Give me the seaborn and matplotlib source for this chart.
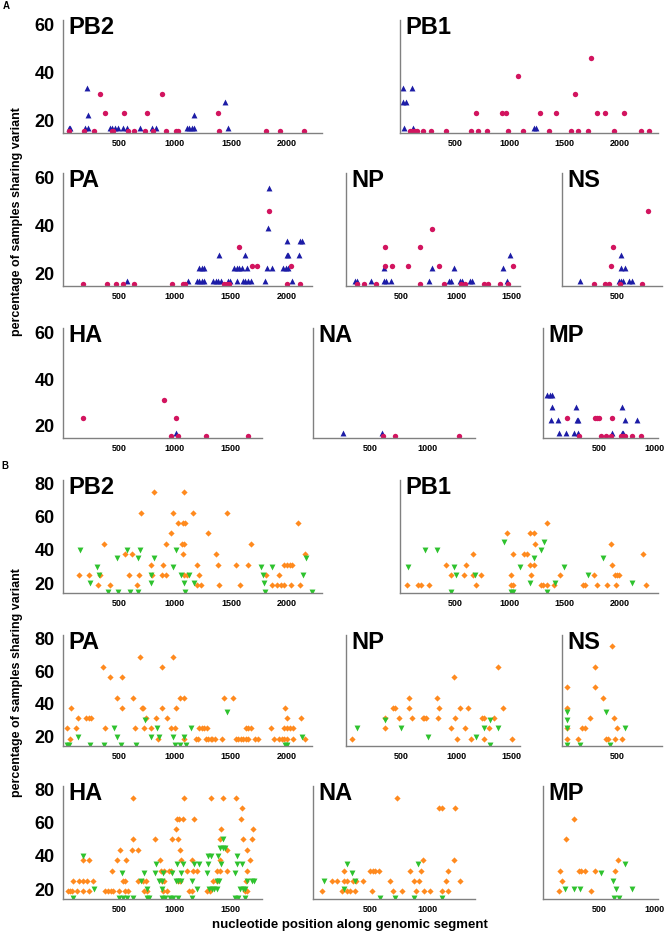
import matplotlib
matplotlib.use("Agg")
import matplotlib.pyplot as plt
import seaborn as sns

# ---- panel A: blue triangles / magenta circles ----
a_pb2_tri = [(50,16.7),(65,16.7),(200,16.7),(220,16.7),(217,33.3),(226,22.2),(420,16.7),(440,16.7),(460,16.7),
             (494,16.7),(540,16.7),(569,16.7),(688,16.7),(792,16.7),(830,16.7),(1104,16.7),(1125,16.7),(1149,16.7),
             (1170,16.7),(1170,22.2),(1450,27.8),(1474,16.7)]
a_pb2_circ = [(57,15.4),(190,15.4),(277,15.4),(435,15.4),(450,15.4),(578,15.4),(634,15.4),(732,15.4),(807,15.4),
              (920,15.4),(1006,15.4),(1030,15.4),(1390,15.4),(1810,15.4),(1938,15.4),(2152,15.4),(330,30.8),
              (375,23.1),(548,23.1),(750,23.1),(884,30.8),(1387,23.1)]

a_pb1_tri = [(27,33.3),(113,33.3),(27,27.8),(52,27.8),(37,16.7),(122,16.7),(1223,16.7),(1241,16.7)]
a_pb1_circ = [(92,15.4),(113,15.4),(134,15.4),(153,15.4),(210,15.4),(281,15.4),(418,15.4),(647,15.4),(714,15.4),
              (790,15.4),(982,15.4),(1119,15.4),(1357,15.4),(1556,15.4),(1623,15.4),(1708,15.4),(1952,15.4),
              (2193,15.4),(2272,15.4),(692,23.1),(927,23.1),(967,23.1),(1074,38.5),(1275,23.1),(1418,23.1),
              (1598,30.8),(1739,46.2),(1790,23.1),(1870,23.1),(2044,23.1)]

a_pa_tri = [(575,16.7),(1113,16.7),(1194,16.7),(1218,16.7),(1238,16.7),(1259,16.7),(1343,16.7),(1366,16.7),
            (1387,16.7),(1408,16.7),(1470,16.7),(1492,16.7),(1557,16.7),(1605,16.7),(1628,16.7),(1652,16.7),
            (1676,16.7),(1807,16.7),(2045,16.7),(1218,22.2),(1238,22.2),(1259,22.2),(1530,22.2),(1551,22.2),
            (1575,22.2),(1596,22.2),(1640,22.2),(1819,22.2),(1864,22.2),(1968,22.2),(1992,22.2),(2015,22.2),
            (1390,27.8),(1630,27.8),(2000,27.8),(2015,27.8),(2111,27.8),(2003,33.3),(2117,33.3),(2140,33.3),
            (1834,38.9),(1837,55.6)]
a_pa_circ = [(182,15.4),(390,15.4),(473,15.4),(533,15.4),(634,15.4),(976,15.4),(1075,15.4),(1090,15.4),
             (1438,15.4),(1462,15.4),(1480,15.4),(1998,15.4),(2117,15.4),(1569,30.8),(1691,23.1),(1736,23.1),
             (1837,46.2),(2033,23.1)]

a_np_tri = [(82,16.7),(97,16.7),(224,16.7),(345,16.7),(364,16.7),(406,16.7),(754,16.7),(939,16.7),(951,16.7),
            (1036,16.7),(1054,16.7),(1127,16.7),(1148,16.7),(1467,16.7),(345,22.2),(779,22.2),(979,22.2),
            (1430,22.2),(1494,27.8)]
a_np_circ = [(97,15.4),(164,15.4),(270,15.4),(673,15.4),(894,15.4),(1045,15.4),(1082,15.4),(1254,15.4),
             (1294,15.4),(1400,15.4),(1470,15.4),(355,23.1),(421,23.1),(561,23.1),(842,23.1),(1515,23.1),
             (358,30.8),(673,30.8),(779,38.5)]

a_ns_tri = [(164,16.7),(515,16.7),(533,16.7),(551,16.7),(612,16.7),(633,16.7),(533,27.8),(533,22.2),(573,22.2)]
a_ns_circ = [(288,15.4),(394,15.4),(430,15.4),(527,15.4),(730,15.4),(442,23.1),(460,30.8),(779,46.2)]

a_ha_tri = [(1006,16.7)]
a_ha_circ = [(182,23.1),(905,30.8),(1006,23.1),(965,15.4),(1030,15.4),(1277,15.4),(1655,15.4)]

a_na_tri = [(265,16.7),(599,16.7)]
a_na_circ = [(608,15.4),(715,15.4),(1273,15.4)]

a_mp_tri = [(38,33.3),(62,33.3),(85,33.3),(85,27.8),(297,27.8),(712,27.8),(74,22.2),(138,22.2),(303,22.2),
            (312,22.2),(735,22.2),(838,22.2),(141,16.7),(209,16.7),(279,16.7),(309,16.7),(618,16.7),(712,16.7),
            (720,16.7)]
a_mp_circ = [(215,23.1),(465,23.1),(485,23.1),(503,23.1),(618,23.1),(324,15.4),(515,15.4),(568,15.4),(609,15.4),
             (700,15.4),(720,15.4),(738,15.4),(794,15.4),(874,15.4)]

# ---- panel B: orange diamonds / green down triangles ----
b_pb2_dia = [(146,25),(235,25),(316,18.75),(330,25),(369,43.75),(420,18.75),(554,37.5),(613,37.5),(592,25),
             (658,18.75),(682,25),(694,62.5),(783,31.25),(792,25),(816,75),(881,25),(917,25),(896,31.25),
             (917,43.75),(968,50),(979,62.5),(1030,56.25),(1060,43.75),(1081,43.75),(1069,56.25),(1090,56.25),
             (1069,37.5),(1081,75),(1084,25),(1110,25),(1164,62.5),(1194,31.25),(1194,18.75),(1232,18.75),
             (1217,25),(1298,50),(1366,37.5),(1384,31.25),(1390,18.75),(1462,62.5),(1545,31.25),(1581,18.75),
             (1652,31.25),(1679,43.75),(1813,25),(1870,18.75),(1910,18.75),(1932,25),(1945,18.75),(1974,18.75),
             (1977,31.25),(2003,31.25),(2027,31.25),(2048,31.25),(2039,18.75),(2102,56.25),(2117,18.75),
             (2161,37.5)]
b_pb2_tri = [(152,40),(241,20),(301,30),(325,25),(405,15),(485,35),(488,15),(572,40),(598,15),(667,35),(667,15),
             (688,40),(786,25),(783,20),(816,35),(979,30),(1009,40),(1054,25),(1081,20),(1090,15),(1122,25),
             (1170,20),(1768,30),(1789,25),(1798,20),(1804,15),(1867,30),(2140,25),(2170,35),(2221,15)]

b_pb1_dia = [(65,18.75),(164,18.75),(188,18.75),(266,18.75),(461,25),(419,31.25),(584,25),(605,31.25),
             (665,37.5),(665,25),(695,18.75),(740,25),(971,50),(1010,25),(1010,18.75),(1031,18.75),(1031,37.5),
             (1130,37.5),(1160,37.5),(1181,50),(1220,50),(1181,31.25),(1220,31.25),(1190,25),(1226,43.75),
             (1280,18.75),(1301,18.75),(1337,56.25),(1340,18.75),(1406,18.75),(1460,25),(1664,18.75),
             (1685,18.75),(1766,25),(1793,18.75),(1886,18.75),(1925,43.75),(1934,31.25),(1961,25),(1976,25),
             (1991,25),(1964,18.75),(2216,37.5),(2243,18.75)]
b_pb1_tri = [(74,30),(230,40),(335,40),(464,15),(494,30),(506,25),(680,25),(944,45),(1013,15),(1031,15),
             (1091,30),(1181,20),(1220,35),(1286,40),(1310,45),(1340,15),(1409,20),(1490,30),(1709,25),(1850,35),
             (2114,20)]

b_pa_dia = [(33,25),(63,18.75),(71,37.5),(116,25),(131,31.25),(205,31.25),(229,31.25),(250,31.25),(360,62.5),
            (375,25),(420,56.25),(485,43.75),(530,56.25),(530,37.5),(622,43.75),(643,25),(688,68.75),(703,37.5),
            (717,37.5),(723,25),(738,31.25),(786,25),(828,31.25),(846,18.75),(887,62.5),(881,37.5),(932,31.25),
            (962,25),(979,68.75),(1000,25),(1006,37.5),(1045,43.75),(1081,43.75),(1081,18.75),(1188,18.75),
            (1209,18.75),(1218,25),(1238,25),(1259,25),(1283,25),(1277,18.75),(1298,18.75),(1319,18.75),
            (1334,18.75),(1357,18.75),(1423,18.75),(1438,43.75),(1521,43.75),(1545,18.75),(1566,18.75),
            (1587,18.75),(1611,18.75),(1631,18.75),(1652,18.75),(1631,25),(1655,25),(1676,25),(1720,18.75),
            (1745,18.75),(1855,25),(1884,18.75),(1932,18.75),(1956,18.75),(1977,18.75),(1998,18.75),(1974,25),
            (1986,37.5),(2003,31.25),(2003,25),(2027,25),(2051,25),(2057,18.75),(2123,31.25),(2161,18.75)]
b_pa_tri = [(33,15),(57,15),(137,20),(241,15),(366,15),(458,25),(479,20),(518,15),(652,15),(735,30),(783,20),
            (837,25),(860,20),(979,20),(1000,15),(1045,15),(1096,15),(1081,20),(1143,25),(1468,35),(1983,15),
            (2003,15),(2140,20)]

b_np_dia = [(53,18.75),(359,25),(359,31.25),(428,37.5),(449,37.5),(479,31.25),(575,43.75),(575,37.5),
            (599,31.25),(698,31.25),(713,31.25),(728,31.25),(824,43.75),(839,31.25),(845,37.5),(953,25),
            (983,56.25),(995,31.25),(1013,18.75),(1041,37.5),(1086,25),(1113,37.5),(1140,18.75),(1236,31.25),
            (1251,31.25),(1251,18.75),(1299,25),(1347,31.25),(1383,62.5),(1425,37.5),(1509,18.75)]
b_np_tri = [(98,25),(353,30),(497,25),(743,20),(1185,20),(1251,25),(1305,30),(1311,15),(1383,25)]

b_ns_dia = [(42,50),(42,37.5),(42,25),(42,18.75),(145,18.75),(185,25),(206,25),(251,31.25),(300,62.5),(303,50),
            (373,43.75),(403,18.75),(421,18.75),(451,75),(470,31.25),(485,18.75),(500,25),(548,18.75)]
b_ns_tri = [(42,35),(42,30),(42,25),(42,15),(161,15),(403,35),(433,15),(576,25)]

b_ha_dia = [(48,18.75),(63,18.75),(77,18.75),(122,18.75),(182,18.75),(235,18.75),(375,18.75),(405,18.75),
            (429,18.75),(450,18.75),(500,18.75),(554,18.75),(583,18.75),(723,18.75),(747,18.75),(896,18.75),
            (926,18.75),(1128,18.75),(1149,18.75),(1283,18.75),(1313,18.75),(1625,18.75),(1646,18.75),
            (92,25),(143,25),(182,25),(217,25),(271,25),(533,25),(554,25),(667,25),(717,25),(738,25),(881,25),
            (902,25),(1024,25),(1045,25),(1343,25),(1372,25),(1634,25),
            (441,31.25),(872,31.25),(902,31.25),(950,31.25),(965,31.25),(1104,31.25),(1164,31.25),(1194,31.25),
            (1372,31.25),(1402,31.25),(1462,31.25),(1640,31.25),
            (176,37.5),(235,37.5),(479,37.5),(563,37.5),(866,37.5),(1054,37.5),(1149,37.5),(1402,37.5),(1670,37.5),
            (509,43.75),(613,43.75),(667,43.75),(1045,43.75),(1462,43.75),(1640,43.75),
            (628,50),(822,50),(976,50),(1030,50),(1402,50),(1611,50),(1685,50),
            (1009,56.25),(1411,56.25),(1700,56.25),
            (1015,62.5),(1036,62.5),(1069,62.5),(1170,62.5),(1587,62.5),(1596,68.75),
            (628,75),(1081,75),(1319,75),(1426,75),(1542,75)]
b_ha_tri = [(92,15),(500,15),(533,15),(569,15),(628,15),(747,15),(771,15),(881,15),(911,15),(956,15),(985,15),
            (1024,15),(1149,15),(1536,15),(1560,15),(1625,15),
            (277,20),(747,20),(881,20),(1194,20),(1307,20),(1328,20),(1352,20),(1372,20),(1581,20),(1605,20),
            (1625,20),
            (697,25),(860,25),(881,25),(1009,25),(1030,25),(1054,25),(1155,25),(1372,25),(1393,25),(1640,25),
            (1685,25),(1706,25),
            (530,30),(726,30),(819,30),(890,30),(971,30),(1051,30),(1283,30),(1539,30),
            (828,35),(1015,35),(1069,35),(1173,35),(1215,35),(1292,35),(1411,35),(1551,35),(1596,35),
            (176,40),(1298,40),(1319,40),(1381,40),(1557,40),
            (1402,45),(1426,45),(1447,45),(1426,50)]

b_na_dia = [(75,18.75),(162,25),(205,25),(272,31.25),(272,25),(292,25),(249,18.75),(292,18.75),(321,18.75),
            (350,25),(370,25),(364,18.75),(436,25),(500,31.25),(523,31.25),(543,31.25),(575,31.25),(517,18.75),
            (668,25),(697,18.75),(731,75),(775,18.75),(847,31.25),(876,25),(899,18.75),(922,25),(936,31.25),
            (957,37.5),(965,18.75),(1017,18.75),(1101,68.75),(1124,68.75),(1121,18.75),(1159,25),(1173,31.25),
            (1179,18.75),(1225,37.5),(1237,68.75),(1277,25)]
b_na_tri = [(100,25),(292,35),(341,30),(364,25),(272,20),(587,15),(711,15),(879,15),(913,35),(1124,15)]

b_mp_dia = [(147,18.75),(153,31.25),(168,25),(203,50),(274,62.5),(324,31.25),(344,31.25),(374,31.25),
            (432,18.75),(465,31.25),(641,31.25),(668,37.5)]
b_mp_tri = [(200,20),(274,20),(332,20),(521,30),(626,25),(632,15),(679,15),(656,20),(738,35),(794,20)]

# ---- layout ----
sns.set_style("white")
plt.rcParams["font.family"] = ["Liberation Sans", "DejaVu Sans"]
plt.rcParams["font.weight"] = "bold"
plt.rcParams["text.color"] = "black"
plt.rcParams["xtick.color"] = "black"
plt.rcParams["ytick.color"] = "black"

W, H = 666, 933
fig = plt.figure(figsize=(W / 100, H / 100), dpi=100)

# segment -> (left px, right px, xmax, xticks)
cols = {
    "PB2": (63, 322, 2313, [500, 1000, 1500, 2000]),
    "PB1": (400, 658, 2350, [500, 1000, 1500, 2000]),
    "PA": (63, 312, 2225, [500, 1000, 1500, 2000]),
    "NP": (346, 520, 1582, [500, 1000, 1500]),
    "NS": (562, 662, 910, [500]),
    "HA": (63, 262, 1778, [500, 1000, 1500]),
    "NA": (313, 475, 1410, [500, 1000]),
    "MP": (543, 658, 1030, [500, 1000]),
}
rows_a = [(20, 133, ["PB2", "PB1"]), (173, 286, ["PA", "NP", "NS"]), (328, 438, ["HA", "NA", "MP"])]
rows_b = [(480, 593, ["PB2", "PB1"]), (635, 746, ["PA", "NP", "NS"]), (786, 899, ["HA", "NA", "MP"])]

data_a = {"PB2": (a_pb2_tri, a_pb2_circ), "PB1": (a_pb1_tri, a_pb1_circ), "PA": (a_pa_tri, a_pa_circ),
          "NP": (a_np_tri, a_np_circ), "NS": (a_ns_tri, a_ns_circ), "HA": (a_ha_tri, a_ha_circ),
          "NA": (a_na_tri, a_na_circ), "MP": (a_mp_tri, a_mp_circ)}
data_b = {"PB2": (b_pb2_dia, b_pb2_tri), "PB1": (b_pb1_dia, b_pb1_tri), "PA": (b_pa_dia, b_pa_tri),
          "NP": (b_np_dia, b_np_tri), "NS": (b_ns_dia, b_ns_tri), "HA": (b_ha_dia, b_ha_tri),
          "NA": (b_na_dia, b_na_tri), "MP": (b_mp_dia, b_mp_tri)}

style_a = [("^", "#1c1ca6", 18), ("o", "#d2145f", 15)]
style_b = [("D", "#ff8a1e", 10), ("v", "#2ec22e", 18)]


def draw_panel(rows, data, styles, ylim, yticks):
    for top, bottom, segs in rows:
        for i, seg in enumerate(segs):
            left, right, xmax, xticks = cols[seg]
            ax = fig.add_axes([left / W, 1 - bottom / H, (right - left) / W, (bottom - top) / H])
            for pts, (mk, colr, sz) in zip(data[seg], styles):
                sns.scatterplot(x=[p[0] for p in pts], y=[p[1] for p in pts], marker=mk, color=colr,
                                s=sz, linewidth=0, ax=ax, legend=False)
            ax.set_xlim(0, xmax)
            ax.set_ylim(*ylim)
            ax.set_xticks(xticks)
            ax.set_yticks(yticks)
            ax.set_xticklabels([str(t) for t in xticks], fontsize=6.5, fontweight="bold")
            if i == 0:
                ax.set_yticklabels([str(t) for t in yticks], fontsize=13, fontweight="bold")
            else:
                ax.set_yticklabels([])
            ax.tick_params(axis="x", length=0, pad=4)
            ax.tick_params(axis="y", length=3, width=0.8, color="#808080", pad=3)
            for s in ["top", "right"]:
                ax.spines[s].set_visible(False)
            for s in ["left", "bottom"]:
                ax.spines[s].set_color("#808080")
                ax.spines[s].set_linewidth(1)
            ax.set_xlabel("")
            ax.set_ylabel("")
            ax.annotate(seg, xy=(0, 1), xycoords="axes fraction", xytext=(4, 3),
                        textcoords="offset points", ha="left", va="top",
                        fontsize=17, fontweight="bold", color="black")


draw_panel(rows_a, data_a, style_a, (14.6, 62), [20, 40, 60])
draw_panel(rows_b, data_b, style_b, (14.2, 82), [20, 40, 60, 80])

fig.text(6 / W, 1 - 6 / H, "A", fontsize=7, fontweight="bold", ha="center", va="center")
fig.text(5 / W, 1 - 466 / H, "B", fontsize=7, fontweight="bold", ha="center", va="center")
fig.text(17 / W, 1 - 222 / H, "percentage of samples sharing variant", rotation=90,
         ha="center", va="center", fontsize=9, fontweight="bold")
fig.text(17 / W, 1 - 683 / H, "percentage of samples sharing variant", rotation=90,
         ha="center", va="center", fontsize=9, fontweight="bold")
fig.text(350 / W, 1 - 925 / H, "nucleotide position along genomic segment",
         ha="center", va="center", fontsize=9.5, fontweight="bold")

fig.savefig("out.png", dpi=100)
